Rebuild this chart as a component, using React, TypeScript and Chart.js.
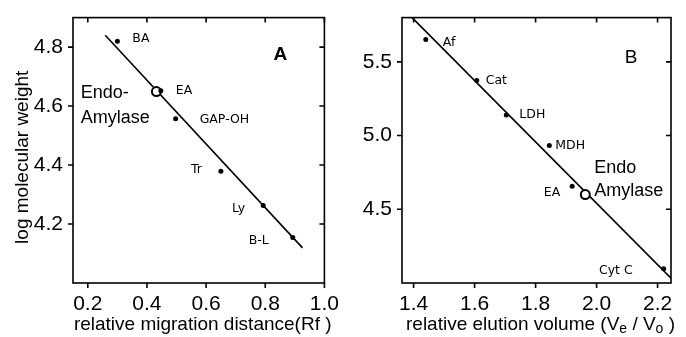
import React, { useEffect, useRef } from "react";
import { Chart, registerables } from "chart.js";

Chart.register(...registerables);

// ---------- Panel A: SDS gel ----------
const rfA = [0.3, 0.447, 0.497, 0.65, 0.793, 0.893];
const logMwA = [4.82, 4.652, 4.557, 4.379, 4.263, 4.154];
const namesA = ["BA", "EA", "GAP-OH", "Tr", "Ly", "B-L"];
const endoRfA = [0.432];
const endoLogMwA = [4.649];
const fitRfA = [0.259, 0.926];
const fitLogMwA = [4.84, 4.119];
const xTicksA = [0.2, 0.4, 0.6, 0.8, 1.0];
const yTicksA = [4.2, 4.4, 4.6, 4.8];

// ---------- Panel B: gel filtration ----------
const veVoB = [1.44, 1.607, 1.704, 1.845, 1.92, 2.22];
const logMwB = [5.651, 5.373, 5.14, 4.933, 4.656, 4.096];
const namesB = ["Af", "Cat", "LDH", "MDH", "EA", "Cyt C"];
const endoVeVoB = [1.963];
const endoLogMwB = [4.6];
const fitVeVoB = [1.395, 2.244];
const fitLogMwB = [5.8, 4.033];
const xTicksB = [1.4, 1.6, 1.8, 2.0, 2.2];
const yTicksB = [4.5, 5.0, 5.5];

const FONT_TICK = "'Liberation Sans', Arial, sans-serif";
const FONT_TEXT = "'Liberation Sans', Arial, sans-serif";
const FONT_SMALL = "'DejaVu Sans', sans-serif";

type Off = [number, number, CanvasTextAlign];

interface PanelCfg {
  xs: number[];
  ys: number[];
  names: string[];
  offsets: Off[];
  endoX: number[];
  endoY: number[];
  fitX: number[];
  fitY: number[];
  xTicks: number[];
  yTicks: number[];
  xMin: number;
  xMax: number;
  yMin: number;
  yMax: number;
  yAxisW: number;
  padRight: number;
  endoLines: string[];
  endoDx: number;
  endoDy: number[];
  panel: string;
  panelFont: string;
  panelFromRight: number;
  panelFromTop: number;
  xTitle: (ctx: CanvasRenderingContext2D, cx: number, cy: number) => void;
  yTitle?: string;
}

const offsetsA: Off[] = [
  [15, -2, "left"],
  [15, 0, "left"],
  [24, 1, "left"],
  [-19, -1, "right"],
  [-18, 3, "right"],
  [-24, 3, "right"],
];
const offsetsB: Off[] = [
  [17, 3, "left"],
  [9, 0, "left"],
  [13, 0, "left"],
  [6, 0, "left"],
  [-12, 6, "right"],
  [-31, 2, "right"],
];

function titleA(ctx: CanvasRenderingContext2D, cx: number, cy: number) {
  ctx.font = `19px ${FONT_TEXT}`;
  ctx.textAlign = "center";
  ctx.textBaseline = "middle";
  ctx.fillText("relative migration distance(Rf )", cx, cy);
}

function titleB(ctx: CanvasRenderingContext2D, cx: number, cy: number) {
  const big = `19px ${FONT_TEXT}`;
  const small = `14px ${FONT_TEXT}`;
  const parts: [string, boolean][] = [
    ["relative elution volume (V", false],
    ["e", true],
    [" / V", false],
    ["o", true],
    [" )", false],
  ];
  let total = 0;
  for (const [t, sub] of parts) {
    ctx.font = sub ? small : big;
    total += ctx.measureText(t).width;
  }
  let x = cx - total / 2;
  ctx.textAlign = "left";
  ctx.textBaseline = "middle";
  for (const [t, sub] of parts) {
    ctx.font = sub ? small : big;
    ctx.fillText(t, x, sub ? cy + 4 : cy);
    x += ctx.measureText(t).width;
  }
}

function makeDecor(cfg: PanelCfg) {
  return {
    id: "decor",
    afterDraw(chart: any) {
      const ctx: CanvasRenderingContext2D = chart.ctx;
      const { left, right, top, bottom } = chart.chartArea;
      const xs = chart.scales.x;
      const ys = chart.scales.y;
      ctx.save();
      ctx.strokeStyle = "#000";
      ctx.fillStyle = "#000";
      ctx.lineWidth = 1.6;
      ctx.strokeRect(left, top, right - left, bottom - top);
      ctx.beginPath();
      for (const v of cfg.xTicks) {
        const p = xs.getPixelForValue(v);
        ctx.moveTo(p, bottom);
        ctx.lineTo(p, bottom + 5);
        ctx.moveTo(p, top);
        ctx.lineTo(p, top + 5);
      }
      for (const v of cfg.yTicks) {
        const p = ys.getPixelForValue(v);
        ctx.moveTo(left - 5, p);
        ctx.lineTo(left, p);
        ctx.moveTo(right - 5, p);
        ctx.lineTo(right, p);
      }
      ctx.stroke();

      // point labels
      const meta = chart.getDatasetMeta(0);
      ctx.font = `12.5px ${FONT_SMALL}`;
      ctx.textBaseline = "middle";
      cfg.names.forEach((n, i) => {
        const el = meta.data[i];
        const [dx, dy, al] = cfg.offsets[i];
        ctx.textAlign = al;
        ctx.fillText(n, el.x + dx, el.y + dy);
      });

      // Endo-Amylase annotation
      const c = chart.getDatasetMeta(1).data[0];
      ctx.font = `18px ${FONT_TEXT}`;
      ctx.textAlign = "left";
      cfg.endoLines.forEach((t, i) => {
        ctx.fillText(t, c.x + cfg.endoDx, c.y + cfg.endoDy[i]);
      });

      // panel letter
      ctx.font = cfg.panelFont;
      ctx.textAlign = "center";
      ctx.fillText(cfg.panel, right - cfg.panelFromRight, top + cfg.panelFromTop);

      // axis titles
      cfg.xTitle(ctx, (left + right) / 2 + 4, 325);
      if (cfg.yTitle) {
        ctx.save();
        ctx.translate(23, (top + bottom) / 2 + 7);
        ctx.rotate(-Math.PI / 2);
        ctx.font = `19px ${FONT_TEXT}`;
        ctx.textAlign = "center";
        ctx.textBaseline = "middle";
        ctx.fillText(cfg.yTitle, 0, 0);
        ctx.restore();
      }
      ctx.restore();
    },
  };
}

function buildConfig(cfg: PanelCfg): any {
  const tickFont = { family: FONT_TICK, size: 21 };
  return {
    type: "scatter",
    data: {
      datasets: [
        {
          data: cfg.xs.map((x, i) => ({ x, y: cfg.ys[i] })),
          pointRadius: 2.5,
          pointBackgroundColor: "#000",
          pointBorderWidth: 0,
        },
        {
          data: cfg.endoX.map((x, i) => ({ x, y: cfg.endoY[i] })),
          pointRadius: 4.5,
          pointBackgroundColor: "#fff",
          pointBorderColor: "#000",
          pointBorderWidth: 2,
        },
        {
          type: "line",
          data: cfg.fitX.map((x, i) => ({ x, y: cfg.fitY[i] })),
          showLine: true,
          borderColor: "#000",
          borderWidth: 1.6,
          pointRadius: 0,
          fill: false,
        },
      ],
    },
    options: {
      responsive: false,
      animation: false,
      devicePixelRatio: 1,
      events: [],
      layout: { padding: { left: 0, right: cfg.padRight, top: 13, bottom: 0 } },
      plugins: { legend: { display: false }, tooltip: { enabled: false } },
      scales: {
        x: {
          type: "linear",
          position: "bottom",
          min: cfg.xMin,
          max: cfg.xMax,
          afterBuildTicks: (s: any) => {
            s.ticks = cfg.xTicks.map((value) => ({ value }));
          },
          afterFit: (s: any) => {
            s.height = 54;
          },
          ticks: {
            autoSkip: false,
            maxRotation: 0,
            padding: 4,
            color: "#000",
            font: tickFont,
            callback: (v: any) => Number(v).toFixed(1),
          },
          grid: { display: false, drawTicks: true, tickLength: 5 },
          border: { display: false },
        },
        y: {
          type: "linear",
          position: "left",
          min: cfg.yMin,
          max: cfg.yMax,
          afterBuildTicks: (s: any) => {
            s.ticks = cfg.yTicks.map((value) => ({ value }));
          },
          afterFit: (s: any) => {
            s.width = cfg.yAxisW;
          },
          ticks: {
            autoSkip: false,
            padding: 5,
            color: "#000",
            font: tickFont,
            callback: (v: any) => Number(v).toFixed(1),
          },
          grid: { display: false, drawTicks: true, tickLength: 5 },
          border: { display: false },
        },
      },
    },
    plugins: [makeDecor(cfg)],
  };
}

const cfgA: PanelCfg = {
  xs: rfA,
  ys: logMwA,
  names: namesA,
  offsets: offsetsA,
  endoX: endoRfA,
  endoY: endoLogMwA,
  fitX: fitRfA,
  fitY: fitLogMwA,
  xTicks: xTicksA,
  yTicks: yTicksA,
  xMin: 0.15,
  xMax: 1.0,
  yMin: 4.0,
  yMax: 4.9,
  yAxisW: 73,
  padRight: 16,
  endoLines: ["Endo-", "Amylase"],
  endoDx: -75.6,
  endoDy: [1.7, 26.7],
  panel: "A",
  panelFont: `bold 19px ${FONT_TEXT}`,
  panelFromRight: 44,
  panelFromTop: 37,
  xTitle: titleA,
  yTitle: "log molecular weight",
};

const cfgB: PanelCfg = {
  xs: veVoB,
  ys: logMwB,
  names: namesB,
  offsets: offsetsB,
  endoX: endoVeVoB,
  endoY: endoLogMwB,
  fitX: fitVeVoB,
  fitY: fitLogMwB,
  xTicks: xTicksB,
  yTicks: yTicksB,
  xMin: 1.362,
  xMax: 2.244,
  yMin: 4.0,
  yMax: 5.8,
  yAxisW: 59,
  padRight: 15,
  endoLines: ["Endo", "Amylase"],
  endoDx: 9,
  endoDy: [-27, -3.7],
  panel: "B",
  panelFont: `19px ${FONT_TEXT}`,
  panelFromRight: 40,
  panelFromTop: 40,
  xTitle: titleB,
};

function Panel({ cfg }: { cfg: PanelCfg }) {
  const ref = useRef<HTMLCanvasElement>(null);
  useEffect(() => {
    const chart = new Chart(ref.current as HTMLCanvasElement, buildConfig(cfg));
    return () => chart.destroy();
  }, [cfg]);
  return (
    <canvas
      ref={ref}
      width={343}
      height={337}
      style={{ display: "block", width: 343, height: 337 }}
    />
  );
}

export default function App() {
  return (
    <div
      style={{
        position: "fixed",
        left: 0,
        top: 0,
        width: 686,
        height: 337,
        display: "flex",
        background: "#fff",
      }}
    >
      <Panel cfg={cfgA} />
      <Panel cfg={cfgB} />
    </div>
  );
}
